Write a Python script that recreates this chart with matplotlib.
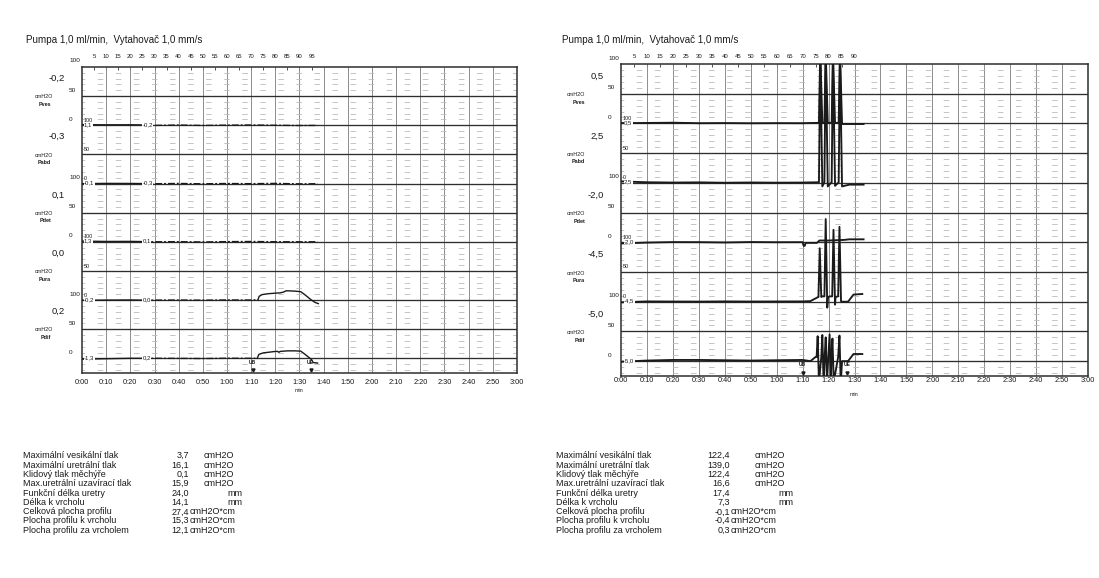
import matplotlib
matplotlib.use('Agg')
import matplotlib.pyplot as plt

plt.rcParams['font.family'] = ['Liberation Sans', 'DejaVu Sans']
plt.rcParams['lines.scale_dashes'] = False

W, H = 1099, 578
fig = plt.figure(figsize=(W / 100, H / 100), dpi=100)
fig.patch.set_facecolor('white')

# ---------------- data ----------------
title_text = "Pumpa 1,0 ml/min,  Vytahovač 1,0 mm/s"
channels = ["Pves", "Pabd", "Pdet", "Pura", "Pdif"]
unit = "cmH2O"
time_ticks = list(range(0, 181, 10))
time_labels = ["0:00", "0:10", "0:20", "0:30", "0:40", "0:50", "1:00", "1:10", "1:20", "1:30",
               "1:40", "1:50", "2:00", "2:10", "2:20", "2:30", "2:40", "2:50", "3:00"]
pos_ticks_L = [5, 10, 15, 20, 25, 30, 35, 40, 45, 50, 55, 60, 65, 70, 75, 80, 85, 90, 95]
pos_ticks_R = [5, 10, 15, 20, 25, 30, 35, 40, 45, 50, 55, 60, 65, 70, 75, 80, 85, 90]
scale_labels = ["100", "50", "0"]

# left record
left_side_vals = ["-0,2", "-0,3", "0,1", "0,0", "0,2"]
left_start_vals = ["1,1", "-0,1", "1,3", "-0,2", "-1,3"]
left_mid_vals = ["-0,2", "-0,3", "0,1", "0,0", "0,2"]
t_base_L = [0, 10, 20, 25, 30, 40, 50, 60, 70, 80, 90, 97.5]
pves_L = [1.1, 0.8, 0.9, 0.6, -0.2, 0.4, -0.3, 0.2, 0.5, 0.0, -0.4, -0.2]
pabd_L = [-0.1, 0.3, 0.2, 0.0, -0.3, 0.2, -0.4, 0.1, -0.2, 0.3, -0.5, -0.3]
pdet_L = [1.3, 0.7, 0.8, 0.5, 0.1, 0.3, -0.2, 0.4, 0.6, 0.2, 0.1, 0.1]
t_pura_L = [0, 10, 20, 25, 30, 40, 50, 60, 70, 72.8, 73.3, 74.5, 77, 80, 82, 83.5, 84.5,
            88, 90.5, 92, 93.5, 95, 96.5, 97.8]
pura_L = [-0.2, 0.1, 0.3, 0.0, 0.0, 0.2, -0.1, 0.3, 0.2, 0.5, 6.5, 9.5, 11, 12, 12.5, 14, 16.1,
          15.5, 14.5, 10, 5, 0, -4, -6]
t_pdif_L = [0, 10, 20, 25, 30, 40, 50, 60, 70, 72.5, 73.2, 75, 78, 80, 81, 81.5, 82, 85, 88,
            90.5, 92, 93.5, 95, 95.6, 97.5]
pdif_L = [-1.3, -0.5, 0.2, 0.2, 0.2, 0.1, -0.2, 0.3, 0.2, 0.3, 7, 9.5, 11, 12, 12, 10.5, 12, 13, 13,
          12.5, 8, 3, -2, -7, -8]
events_L = [70.6, 94.6]

# right record
right_side_vals = ["0,5", "2,5", "-2,0", "-4,5", "-5,0"]
right_start_vals = ["0,5", "2,5", "-2,0", "-4,5", "-5,0"]
t_pves_R = [0, 10, 20, 30, 40, 50, 60, 70, 76.3, 76.8, 77.6, 78.4, 78.9, 79.7, 81.2, 81.7,
            82.5, 83.9, 84.4, 85.2, 88, 93.5]
pves_R = [0.5, 0.8, 1.2, 0.4, 0.6, 0.3, 0.5, 0.4, 1, 122.4, 1, 1, 120, 1, 1, 118, 1, 1, 121, -1,
          -1, -1]
t_pabd_R = [0, 10, 20, 30, 40, 50, 60, 70, 76.3, 76.8, 77.6, 78.4, 78.9, 79.7, 81.2, 81.7,
            82.5, 83.9, 84.4, 85.2, 88, 93.5]
pabd_R = [2.5, 1.0, 0.5, 0.8, 0.2, 0.6, 0.3, 0.5, 1, 215, -6, 1, 215, -6, 1, 215, -5, 1, 215, -6,
          -3, -3]
t_pdet_R = [0, 10, 20, 30, 40, 50, 60, 70, 70.4, 70.8, 71.2, 75.5, 76.5, 80, 86, 88, 93.5]
pdet_R = [-2.0, -0.5, 0.3, 0.2, -0.3, 0.4, 0.1, 0.2, -6, -6, -1, -1, 3, 3, 4, 5, 5]
t_pura_R = [0, 10, 20, 30, 40, 50, 60, 70, 73, 75.6, 76.1, 76.6, 77.2, 77.6, 78.4, 78.9, 79.5,
            79.8, 80.5, 81.4, 81.9, 82.5, 82.7, 83.7, 84.2, 84.8, 85, 87.3, 87.7, 89.6, 93.0]
pura_R = [-1, 0.5, 0.3, 0.2, 0.5, 0.3, 0.4, 0.5, 1, 7, 8, 90, 8, 9, 9, 139, -10, 8, 9, 9, 121, -5,
          8, 9, 126, 1, 0, 0, 1, 12, 13]
t_pdif_R = [0, 10, 20, 30, 40, 50, 60, 70, 73, 75, 75.4, 75.8, 76.3, 77.2, 77.6, 78.1, 78.5, 78.9,
            79.4, 79.9, 80.4, 80.9, 81.1, 81.5, 82.0, 83.7, 84.2, 84.7, 85.2, 87.3, 87.7, 89.6, 93.0]
pdif_R = [-1, 1, 2, 2, 1.5, 1, 1.5, 2, 0, 7, 7, 42, -35, 7, 44, -38, 7, 40, -36, 7, 45, -40, 7, 38,
          -35, 7, 43, -38, 0, 0, 1, 12, 12]
events_R = [70.0, 87.1]
event_names = ["UB", "UE"]

# summary tables
stat_names = ["Maximální vesikální tlak", "Maximální uretrální tlak", "Klidový tlak měchýře",
              "Max.uretrální uzavírací tlak", "Funkční délka uretry", "Délka k vrcholu",
              "Celková plocha profilu", "Plocha profilu k vrcholu", "Plocha profilu za vrcholem"]
stat_units = ["cmH2O", "cmH2O", "cmH2O", "cmH2O", "mm", "mm", "cmH2O*cm", "cmH2O*cm", "cmH2O*cm"]
stat_vals_L = ["3,7", "16,1", "0,1", "15,9", "24,0", "14,1", "27,4", "15,3", "12,1"]
stat_vals_R = ["122,4", "139,0", "122,4", "16,6", "17,4", "7,3", "-0,1", "-0,4", "0,3"]

# ---------------- layout ----------------
OFF = [400, 300, 200, 100, 0]     # channel zero levels on the stacked axis
INK = '#1a1a1a'
DASHDOT = (0, (5, 1.4, 1.4, 1.4))


def px_axes(x0, y0, x1, y1):
    return fig.add_axes([x0 / W, 1 - y1 / H, (x1 - x0) / W, (y1 - y0) / H])


def ftext(x, y, s, **kw):
    kw.setdefault('color', INK)
    fig.text(x / W, 1 - y / H, s, **kw)


def setup_panel(ax, pos_ticks, top_pad, bot_pad, side_vals, cm_dx, name_dx):
    ax.set_xlim(0, 180)
    ax.set_ylim(-25, 500)
    for x in time_ticks[1:-1]:
        ax.axvline(x, color='#858585', lw=0.65, zorder=1)
    for base in range(-50, 500, 50):
        for k in (10, 20, 30, 40):
            y = base + k
            if -25 < y < 500:
                ax.axhline(y, color='#bcbcbc', lw=0.6, ls=(2, (4, 9)), zorder=1)
    for y in range(0, 500, 50):
        ax.axhline(y, color='#2e2e2e', lw=0.95, zorder=2)
    for s in ax.spines.values():
        s.set_color('#2e2e2e')
        s.set_linewidth(1.1)
    ax.set_yticks([])
    ax.set_xticks(time_ticks, time_labels)
    ax.tick_params(axis='x', length=0, pad=bot_pad, labelsize=5.3, labelcolor=INK)
    sec = ax.secondary_xaxis('top')
    sec.set_xticks(pos_ticks, [str(p) for p in pos_ticks])
    sec.tick_params(direction='in', length=2.5, width=0.6, pad=top_pad, labelsize=4.3,
                    labelcolor=INK, color='#333333')
    sec.spines['top'].set_visible(False)
    ax.annotate("min", xy=(90, 0), xycoords=('data', 'axes fraction'), xytext=(0, -18),
                textcoords='offset pixels', ha='center', va='center', fontsize=3.8, color=INK)
    # outside scale labels (Pves, Pdet, Pdif) and inside ones (Pabd, Pura)
    for ci in range(5):
        for lab, v in zip(scale_labels, (100, 50, 0)):
            y = OFF[ci] + v
            if ci % 2 == 0:
                ax.annotate(lab, xy=(0, y), xycoords=('axes fraction', 'data'), xytext=(-13, 6),
                            textcoords='offset pixels', ha='left', va='center', fontsize=4.6,
                            color=INK)
            else:
                ax.annotate(lab, xy=(0, y), xycoords=('axes fraction', 'data'), xytext=(2, 5),
                            textcoords='offset pixels', ha='left', va='center', fontsize=3.9,
                            color=INK, zorder=6)
        z = OFF[ci]
        ax.annotate(side_vals[ci], xy=(0, z), xycoords=('axes fraction', 'data'),
                    xytext=(-17, 47), textcoords='offset pixels', ha='right', va='center',
                    fontsize=6.8, color=INK)
        ax.annotate(unit, xy=(0, z), xycoords=('axes fraction', 'data'), xytext=(cm_dx, 28.5),
                    textcoords='offset pixels', ha='right', va='center', fontsize=3.9, color=INK)
        ax.annotate(channels[ci], xy=(0, z), xycoords=('axes fraction', 'data'),
                    xytext=(name_dx, 21), textcoords='offset pixels', ha='right', va='center',
                    fontsize=3.9, fontweight='bold', color=INK)


def inline_label(ax, t, y, s):
    ax.text(t, y, s, fontsize=4.3, ha='left', va='center', color=INK, zorder=7,
            bbox=dict(boxstyle='square,pad=0.05', fc='white', ec='none'))


def events(ax, times):
    for t, nm in zip(times, event_names):
        ax.annotate(nm, xy=(t, 0), xycoords=('data', 'axes fraction'), xytext=(0, 11),
                    textcoords='offset pixels', ha='center', va='center', fontsize=3.6,
                    fontweight='bold', color=INK, zorder=8)
        ax.plot([t], [-20], marker='v', ms=2.2, color=INK, zorder=8, clip_on=False)


# ---------------- left panel ----------------
axL = px_axes(82, 67, 517, 373)
setup_panel(axL, pos_ticks_L, 5.8, 4.3, left_side_vals, -29, -31)
base_series_L = [(t_base_L, pves_L), (t_base_L, pabd_L), (t_base_L, pdet_L),
                 (t_pura_L, pura_L), (t_pdif_L, pdif_L)]
for ci, (tt, vv) in enumerate(base_series_L):
    yy = [OFF[ci] + v for v in vv]
    first = [i for i, t in enumerate(tt) if t <= 25]
    axL.plot([tt[i] for i in first], [yy[i] for i in first], color=INK, lw=1.0, zorder=5)
    if ci < 3:
        rest = [i for i, t in enumerate(tt) if t >= 25]
        axL.plot([tt[i] for i in rest], [yy[i] for i in rest], color=INK, lw=1.0,
                 ls=DASHDOT, zorder=5)
    else:
        flat = [i for i, t in enumerate(tt) if 25 <= t <= 72.8]
        resp = [i for i, t in enumerate(tt) if t >= 72.5]
        axL.plot([tt[i] for i in flat], [yy[i] for i in flat], color=INK, lw=1.0,
                 ls=DASHDOT, zorder=5)
        axL.plot([tt[i] for i in resp], [yy[i] for i in resp], color=INK, lw=1.0, zorder=5)
    inline_label(axL, 0.8, OFF[ci] + 1, left_start_vals[ci])
    inline_label(axL, 25, OFF[ci] + 1, left_mid_vals[ci])
events(axL, events_L)

# ---------------- right panel ----------------
axR = px_axes(621, 64, 1088, 376)
setup_panel(axR, pos_ticks_R, 3.6, 0.8, right_side_vals, -36, -36)
series_R = [(t_pves_R, pves_R), (t_pabd_R, pabd_R), (t_pdet_R, pdet_R),
            (t_pura_R, pura_R), (t_pdif_R, pdif_R)]
for ci, (tt, vv) in enumerate(series_R):
    axR.plot(tt, [OFF[ci] + v for v in vv], color=INK, lw=1.35, zorder=5)
    inline_label(axR, 1.2, OFF[ci] + 1, right_start_vals[ci])
events(axR, events_R)

# ---------------- titles ----------------
ftext(26, 40, title_text, fontsize=7.1, va='center')
ftext(562, 40, title_text, fontsize=7.1, va='center')

# ---------------- summary tables ----------------
rows_y = [455, 464.3, 473.7, 483, 492.5, 501.8, 511.2, 520, 529.3]
FS = 6.5


def table(x_lab, x_num, x_unit, x_mm, vals):
    for i, yc in enumerate(rows_y):
        y = yc + 3.3
        ftext(x_lab, y, stat_names[i], fontsize=FS, va='baseline')
        ftext(x_num, y, vals[i], fontsize=FS, va='baseline', ha='right')
        u = stat_units[i]
        if u == 'cmH2O':
            ftext(x_unit, y, u, fontsize=FS, va='baseline')
        elif u == 'mm':
            ftext(x_mm, y, u, fontsize=FS, va='baseline', ha='right')
        else:
            ftext(x_num + 0.5, y, u, fontsize=FS, va='baseline')


table(23, 189, 204, 242, stat_vals_L)
table(556, 730, 755, 793, stat_vals_R)

fig.savefig('out.png', dpi=100, facecolor='white')
